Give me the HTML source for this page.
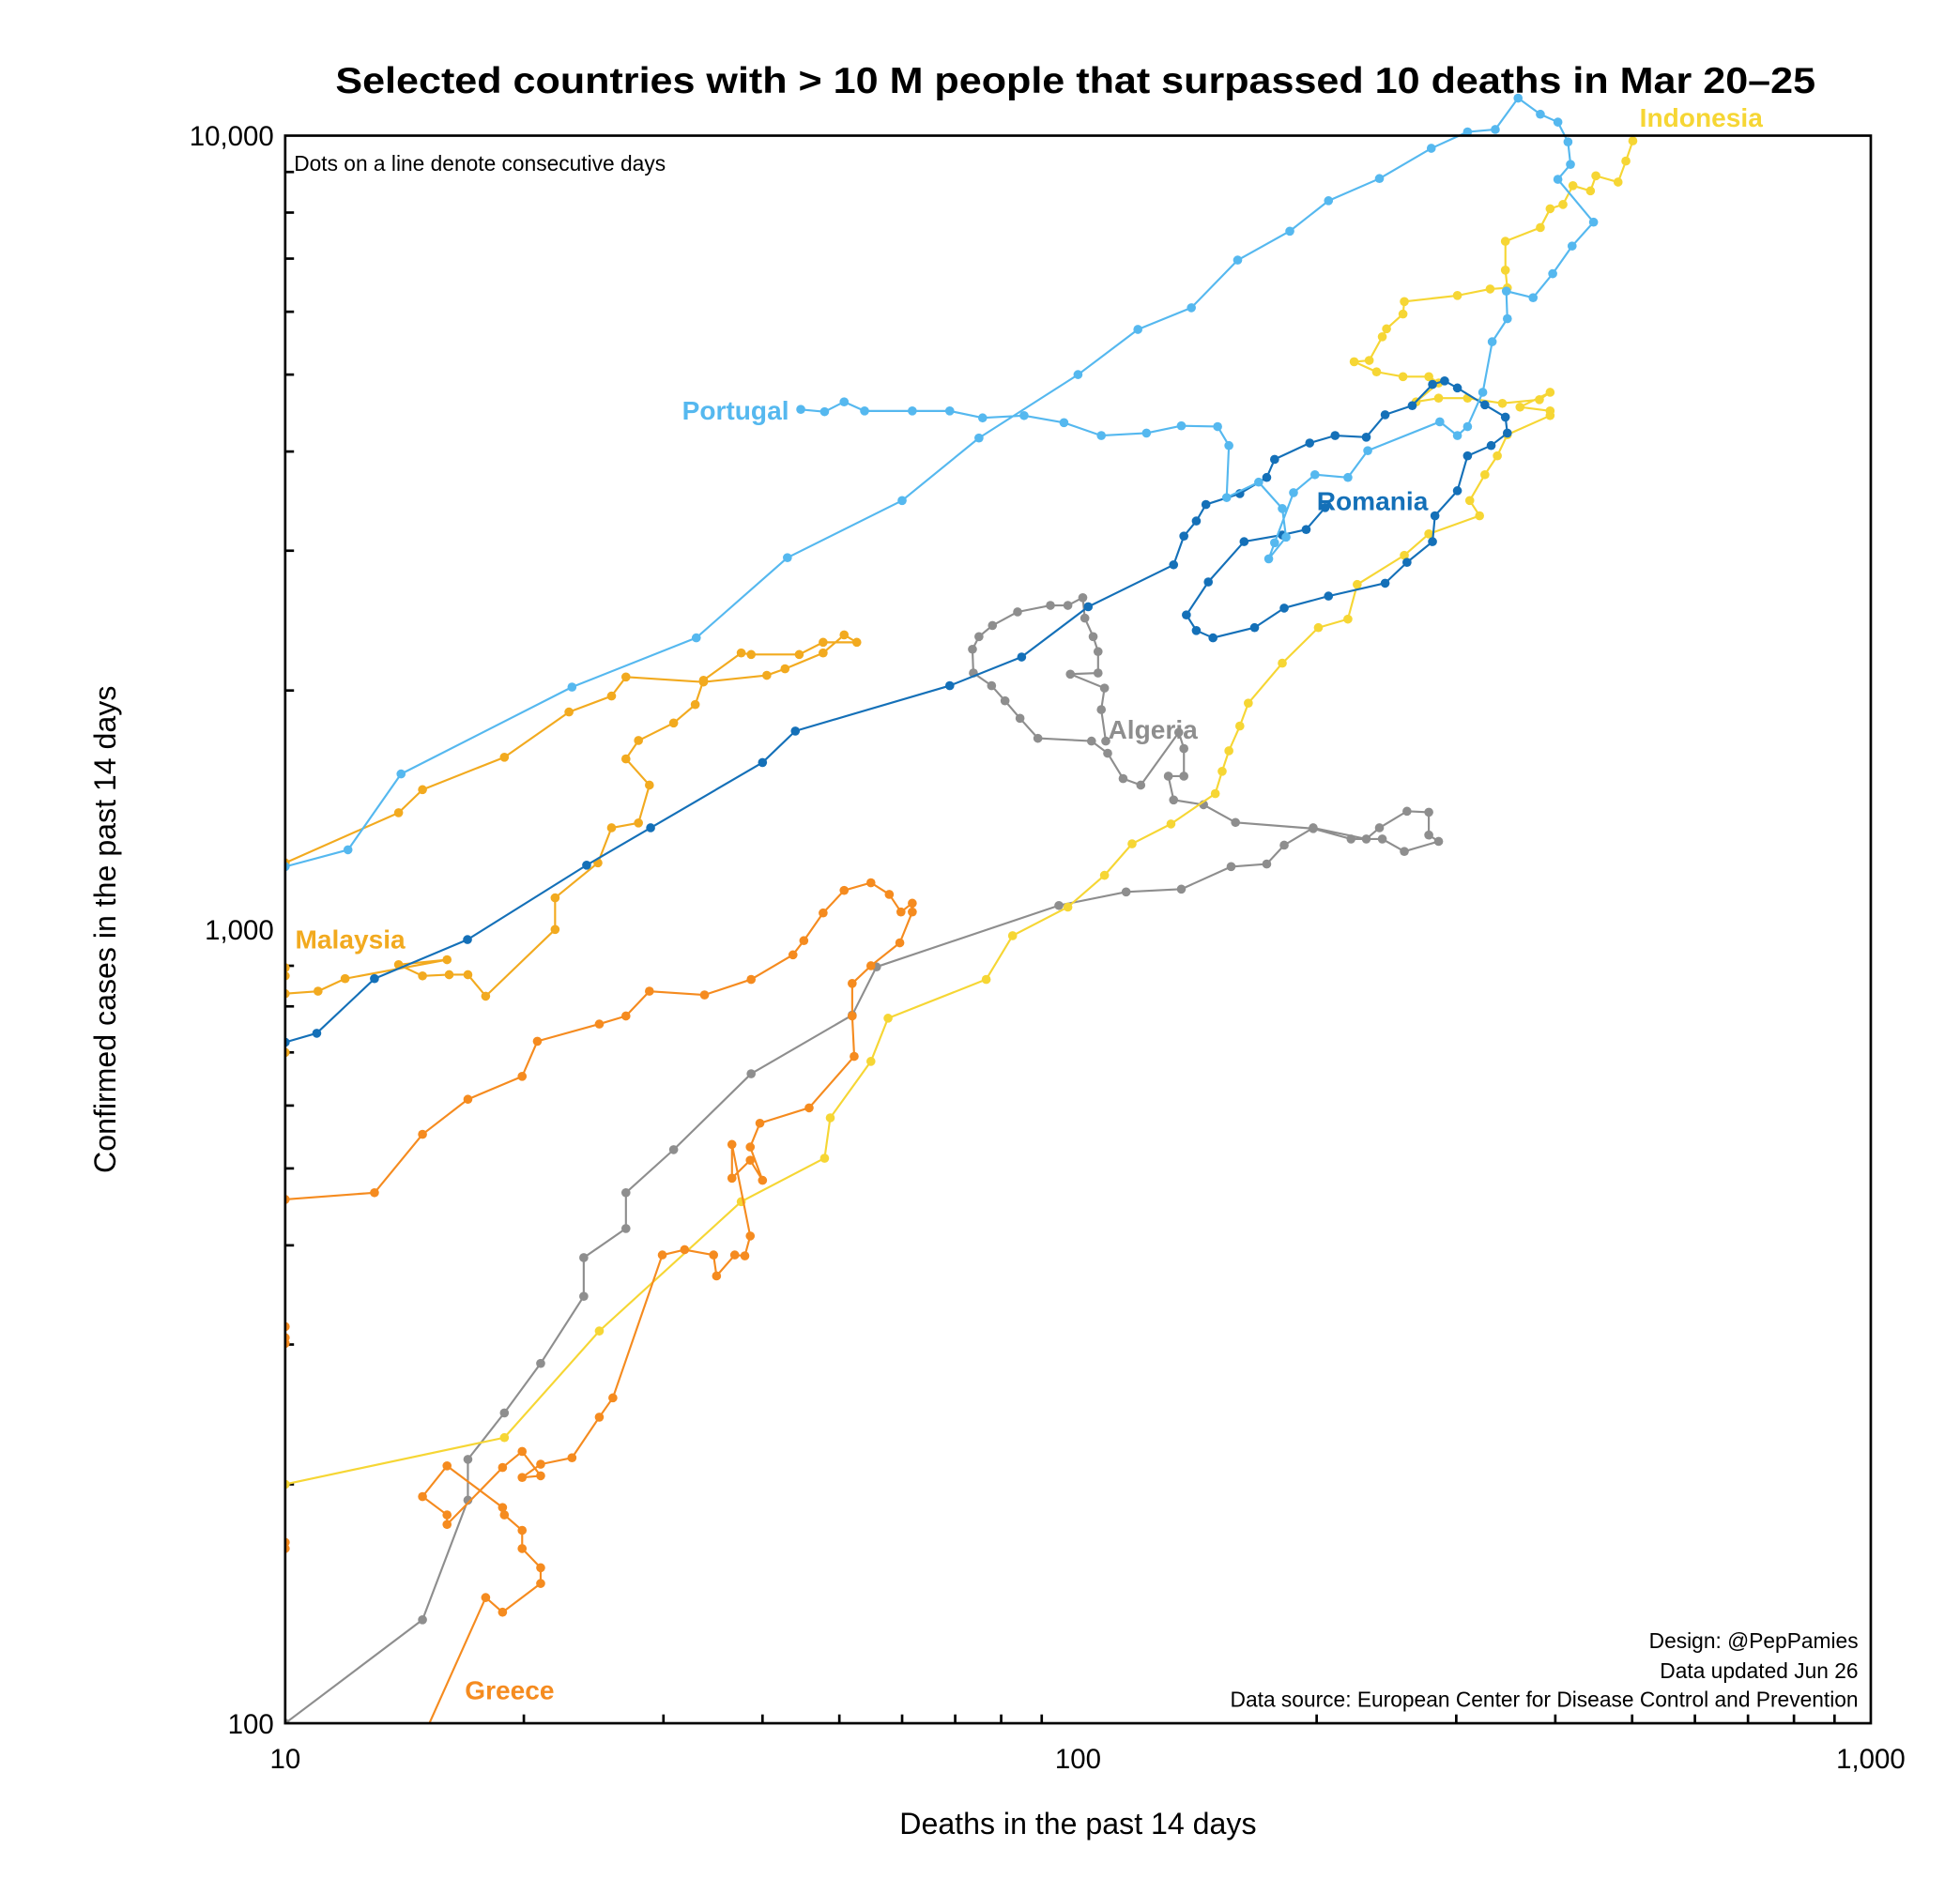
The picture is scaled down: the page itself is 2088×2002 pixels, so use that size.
<!DOCTYPE html>
<html><head><meta charset="utf-8"><style>
html,body{margin:0;padding:0;background:#fff}
svg{display:block}
text{font-family:"Liberation Sans",sans-serif}
</style></head><body>
<svg id="chart" width="2088" height="2002" viewBox="0 0 1560 1496" preserveAspectRatio="none" xmlns="http://www.w3.org/2000/svg">
<defs><clipPath id="clip"><rect x="227" y="40" width="1262" height="1332"/></clipPath></defs>
<rect width="1560" height="1496" fill="#fff"/>
<text x="856" y="74" text-anchor="middle" font-size="29" font-weight="bold" textLength="1178" lengthAdjust="spacingAndGlyphs">Selected countries with &gt; 10 M people that surpassed 10 deaths in Mar 20–25</text>
<g id="axes"></g>
<g id="series" clip-path="url(#clip)"></g>
<rect x="227" y="108" width="1262" height="1264" fill="none" stroke="#000" stroke-width="2"/>
<text x="234" y="136" font-size="17">Dots on a line denote consecutive days</text>
<text x="1479" y="1312" text-anchor="end" font-size="17">Design: @PepPamies</text>
<text x="1479" y="1336" text-anchor="end" font-size="17">Data updated Jun 26</text>
<text x="1479" y="1359" text-anchor="end" font-size="17">Data source: European Center for Disease Control and Prevention</text>
<text x="858" y="1460" text-anchor="middle" font-size="24">Deaths in the past 14 days</text>
<text transform="translate(92,740) rotate(-90)" text-anchor="middle" font-size="24">Confirmed cases in the past 14 days</text>
</svg>
<script>
const xTicks=[10,100,1000];
const xTickLabels=["10","100","1,000"];
const yTicks=[100,1000,10000];
const yTickLabels=["100","1,000","10,000"];

const portugalDeaths=[10,12,14,23,33,43,60,75,100,119,139,159,185,207,240,279,310,336,359,383,403,415,418,403,447,420,397,375,347,348,333,324,310,301,286,232,219,199,187,177,174,183,181,169,154,155,150,135,122,107,96,85.5,75.8,68.9,61.8,53.8,50.7,47.9,44.7];
const portugalCases=[1200,1260,1570,2020,2330,2940,3470,4160,5000,5700,6070,6970,7580,8280,8830,9640,10110,10180,11150,10640,10400,9820,9200,8810,7780,7260,6700,6250,6370,5880,5500,4750,4300,4190,4360,4010,3710,3740,3550,3070,2930,3120,3390,3660,3500,4070,4300,4310,4220,4190,4350,4440,4410,4500,4500,4500,4620,4490,4520];

const romaniaDeaths=[10,10.96,12.96,16.98,24,28.9,40,44,68.9,84.9,103,132,136,141,145,160,173,177,196,211,231,244,264,280,290,301,326,346,348,332,310,301,282,280,260,244,207,182,167,148,141,137,146,162,181,194,205];
const romaniaCases=[721,740,867,971,1205,1343,1623,1778,2028,2204,2550,2880,3130,3270,3430,3540,3710,3910,4100,4190,4170,4450,4570,4860,4910,4810,4580,4420,4220,4070,3950,3570,3320,3080,2900,2730,2630,2540,2400,2330,2380,2490,2740,3080,3140,3190,3400];

const malaysiaDeaths=[10,13.9,14.9,18.9,22.8,25.8,26.9,33.7,40.5,42.7,47.7,50.7,52.6,47.7,44.5,38.7,37.6,33.7,32.9,30.9,27.9,26.9,28.8,27.9,25.8,24.8,21.9,21.9,17.9,17,16.1,14.9,13.9,16,11.9,11,10,10,10,10];
const malaysiaCases=[1213,1403,1500,1648,1879,1968,2080,2050,2090,2130,2230,2350,2300,2300,2220,2220,2230,2060,1920,1820,1730,1640,1520,1362,1343,1213,1096,1000,824,877,877,874,903,916,867,836,830,874,895,700];

const greeceDeaths=[10,12.96,14.9,17,19.9,20.8,24.9,26.9,28.8,33.8,38.7,43.7,45.1,47.7,50.7,54.8,57.8,59.8,61.8,61.8,59.6,54.8,51.9,51.9,52.2,45.8,39.7,38.6,40,38.6,36.6,36.6,38.6,38,36.9,35,34.7,31.9,29.9,25.9,24.9,23,21,19.9,21,19.9,18.8,16,16,14.9,16,18.8,18.9,19.9,19.9,21,21,18.8,17.9,14.5];
const greeceCases=[457,466,552,611,653,723,760,778,836,827,865,929,968,1049,1120,1145,1107,1052,1079,1052,962,900,855,778,692,596,570,532,483,512,486,536,411,388,389,366,389,395,389,257,243,216,212,204,205,220,210,178,183,193,211,187,183,175,166,157,150,138,144,90];
const greeceEdgeDeaths=[10,10,10,10,10];
const greeceEdgeCases=[316,306,301,169,166];

const algeriaDeaths=[10,14.9,17,17,18.9,21,23.8,23.8,26.9,26.9,30.9,38.7,51.9,55.7,94.6,115,135,156,173,182,198,231,240,260,277,277,285,258,242,221,198,158,144,132,130,136,136,134,120,114,109,104,89,84.5,80.9,77.8,73.8,73.6,75,78,83.9,92.3,97.1,101.4,102,104.5,106,106,97.8,108,107,108.4];
const algeriaCases=[100,135,191,215,246,284,345,386,420,466,528,658,780,897,1072,1115,1124,1200,1209,1277,1343,1300,1343,1409,1405,1315,1291,1254,1300,1300,1340,1364,1436,1456,1560,1560,1690,1771,1520,1549,1667,1727,1741,1845,1941,2028,2104,2254,2338,2415,2512,2560,2560,2618,2467,2338,2239,2104,2097,2014,1892,1727];

const indonesiaDeaths=[10,18.9,24.9,37.6,47.9,48.7,54.8,57.6,76.6,82.7,97.1,108,117,131,149,152,155,160,164,181,201,219,225,258,277,321,312,326,338,348,394,394,361,394,382,343,310,285,267,285,277,257,238,223,233,242,245,257,258,301,331,348,346,346,383,394,409,421,443,450,480,491,501];
const indonesiaCases=[200,229,312,454,515,579,682,773,865,982,1067,1170,1282,1358,1483,1582,1679,1804,1928,2165,2400,2460,2720,2960,3150,3320,3470,3740,3950,4200,4440,4500,4550,4750,4650,4600,4670,4670,4620,4880,4970,4970,5040,5190,5210,5580,5710,5960,6180,6290,6410,6430,6770,7360,7660,8090,8190,8650,8520,8900,8740,9290,9850];

const labelNames=["Portugal","Romania","Malaysia","Greece","Algeria","Indonesia"];

const NS="http://www.w3.org/2000/svg";
const X0=227,X1=1489,Y0=1372,Y1=108;
function xs(v){return X0+(Math.log10(v)-1)/2*(X1-X0);}
function ys(v){return Y0-(Math.log10(v)-2)/2*(Y0-Y1);}
function mk(tag,attrs,parent){const e=document.createElementNS(NS,tag);for(const k in attrs)e.setAttribute(k,attrs[k]);parent.appendChild(e);return e;}

const axes=document.getElementById('axes');
xTicks.forEach((t,i)=>{
  const l=mk('text',{x:xs(t),y:1408,'text-anchor':'middle','font-size':22},axes);
  
  
  l.textContent=xTickLabels[i];
});
yTicks.forEach((t,i)=>{
  const l=mk('text',{x:218,y:ys(t)+8,'text-anchor':'end','font-size':22},axes);
  
  
  l.textContent=yTickLabels[i];
});
for(let dec=10;dec<1000;dec*=10){for(let m=2;m<=9;m++){
  const v=dec*m;
  const tx=mk('line',{x1:xs(v),x2:xs(v),y1:Y0,y2:Y0-7,stroke:'#000','stroke-width':2},axes);
  
  
}}
for(let dec=100;dec<10000;dec*=10){for(let m=2;m<=9;m++){
  const v=dec*m;
  const ty=mk('line',{x1:X0,x2:X0+7,y1:ys(v),y2:ys(v),stroke:'#000','stroke-width':2},axes);
  
  
}}

const sg=document.getElementById('series');
function drawSeries(name,dx,cy,color,line){
  const g=mk('g',{},sg);
  
  
  if(line){
    const pts=dx.map((d,i)=>xs(d).toFixed(1)+','+ys(cy[i]).toFixed(1)).join(' ');
    const p=mk('polyline',{points:pts,fill:'none',stroke:color,'stroke-width':1.6,'stroke-linejoin':'round'},g);
    
    
  }
  dx.forEach((d,i)=>{
    const c=mk('circle',{cx:xs(d),cy:ys(cy[i]),r:3.6,fill:color},g);
    
    
  });
}
drawSeries('algeria',algeriaDeaths,algeriaCases,'#8e8e8e',true);
drawSeries('indonesia',indonesiaDeaths,indonesiaCases,'#f6d634',true);
drawSeries('greece',greeceDeaths,greeceCases,'#f58b1f',true);
drawSeries('greece-edge',greeceEdgeDeaths,greeceEdgeCases,'#f58b1f',false);
drawSeries('malaysia',malaysiaDeaths,malaysiaCases,'#f2aa1f',true);
drawSeries('romania',romaniaDeaths,romaniaCases,'#1470b8',true);
drawSeries('portugal',portugalDeaths,portugalCases,'#55b8ef',true);

const labels=[
 {t:labelNames[0],x:628,y:334,a:'end',c:'#55b8ef'},
 {t:labelNames[1],x:1048,y:406,a:'start',c:'#1470b8'},
 {t:labelNames[2],x:235,y:755,a:'start',c:'#f2aa1f'},
 {t:labelNames[3],x:370,y:1353,a:'start',c:'#f58b1f'},
 {t:labelNames[4],x:882,y:588,a:'start',c:'#8e8e8e'},
 {t:labelNames[5],x:1305,y:101,a:'start',c:'#f6d634'}
];
const svg=document.getElementById('chart');
labels.forEach(L=>{
  const e=mk('text',{x:L.x,y:L.y,'text-anchor':L.a,'font-size':21,'font-weight':'bold',fill:L.c},svg);
  
  
  e.textContent=L.t;
});
</script>
</body></html>
